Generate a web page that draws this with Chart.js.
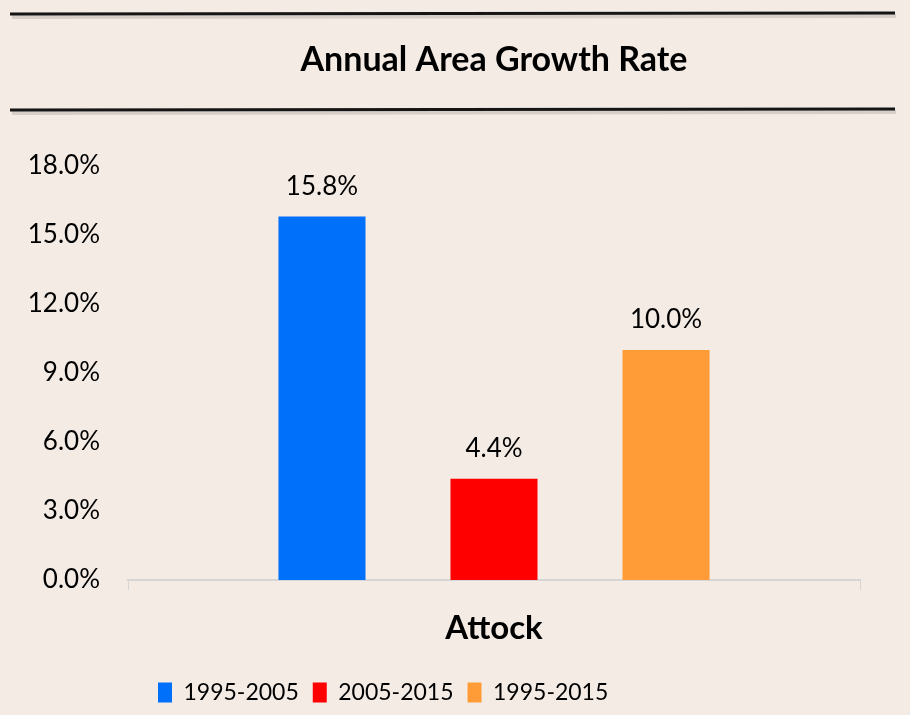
<!DOCTYPE html>
<html>
<head>
<meta charset="utf-8">
<script src="https://cdn.jsdelivr.net/npm/chart.js@4.4.1/dist/chart.umd.min.js"></script>
<style>
  html, body { margin: 0; padding: 0; background: #F4EBE5; }
  #wrap { width: 910px; height: 715px; position: relative; }
</style>
</head>
<body>
<div id="wrap"><canvas id="growthChart"></canvas></div>
<script>
// ---- data ----
const CATEGORIES = ['Attock'];
const PERIODS = ['1995-2005', '2005-2015', '1995-2015'];
const GROWTH_1995_2005 = [15.8];
const GROWTH_2005_2015 = [4.4];
const GROWTH_1995_2015 = [10.0];
const Y_TICKS = [0, 3, 6, 9, 12, 15, 18];

const COLORS = ['#0070FA', '#FF0000', '#FF9C37'];
const FONT = 'Lato, "Noto Sans", sans-serif';

// horizontal rules above and below the title
const titleRules = {
  id: 'titleRules',
  beforeDraw(chart) {
    const ctx = chart.ctx;
    ctx.save();
    [13, 109].forEach(y => {
      ctx.strokeStyle = 'rgba(0,0,0,0.12)';
      ctx.lineWidth = 4;
      ctx.beginPath(); ctx.moveTo(12, y + 4); ctx.lineTo(896, y + 3); ctx.stroke();
      ctx.strokeStyle = '#151515';
      ctx.lineWidth = 3;
      ctx.beginPath(); ctx.moveTo(10, y + 1); ctx.lineTo(895, y); ctx.stroke();
    });
    ctx.restore();
  }
};

// value labels above each bar
const barValues = {
  id: 'barValues',
  afterDatasetsDraw(chart) {
    const ctx = chart.ctx;
    ctx.save();
    ctx.font = '26px ' + FONT;
    ctx.fillStyle = '#000';
    ctx.textAlign = 'center';
    ctx.textBaseline = 'middle';
    chart.data.datasets.forEach((ds, i) => {
      chart.getDatasetMeta(i).data.forEach((bar, j) => {
        ctx.fillText(ds.data[j].toFixed(1) + '%', bar.x, bar.y - 30);
      });
    });
    ctx.restore();
  }
};

// nudge the legend row right, it sits left of centre in the original
const legendShift = {
  id: 'legendShift',
  afterLayout(chart) {
    chart.legend.left += 16;
    chart.legend.right += 16;
  }
};

const series = [GROWTH_1995_2005, GROWTH_2005_2015, GROWTH_1995_2015];

new Chart(document.getElementById('growthChart'), {
  type: 'bar',
  data: {
    labels: CATEGORIES,
    datasets: PERIODS.map((p, i) => ({
      label: p,
      data: series[i],
      backgroundColor: COLORS[i],
      borderWidth: 0,
      categoryPercentage: 0.705,
      barPercentage: 0.506
    }))
  },
  options: {
    responsive: true,
    maintainAspectRatio: false,
    animation: false,
    layout: { padding: { left: 0, right: 50, top: 0, bottom: 1 } },
    plugins: {
      title: {
        display: true,
        fullSize: false,
        text: 'Annual Area Growth Rate',
        color: '#000',
        font: { family: FONT, size: 34, weight: 'bold' },
        padding: { top: 40, bottom: 85 }
      },
      legend: {
        position: 'bottom',
        fullSize: false,
        align: 'start',
        labels: {
          color: '#000',
          font: { family: FONT, size: 23 },
          boxWidth: 14,
          boxHeight: 20,
          padding: 14
        }
      },
      tooltip: { enabled: false }
    },
    scales: {
      x: {
        afterFit(axis) { axis.height = 87; },
        grid: {
          display: true,
          drawOnChartArea: false,
          drawTicks: true,
          tickLength: 10,
          color: '#D6D6D6'
        },
        border: { display: true, color: '#D6D6D6', width: 2 },
        ticks: {
          color: '#000',
          font: { family: FONT, size: 33, weight: 'bold' },
          padding: 19
        }
      },
      y: {
        min: 0,
        max: 18,
        afterBuildTicks(axis) { axis.ticks = Y_TICKS.map(v => ({ value: v })); },
        afterFit(axis) { axis.width = 128; },
        grid: { display: false },
        border: { display: false },
        ticks: {
          color: '#000',
          font: { family: FONT, size: 26 },
          padding: 20,
          callback: v => v.toFixed(1) + '%'
        }
      }
    }
  },
  plugins: [titleRules, barValues, legendShift]
});
</script>
</body>
</html>
